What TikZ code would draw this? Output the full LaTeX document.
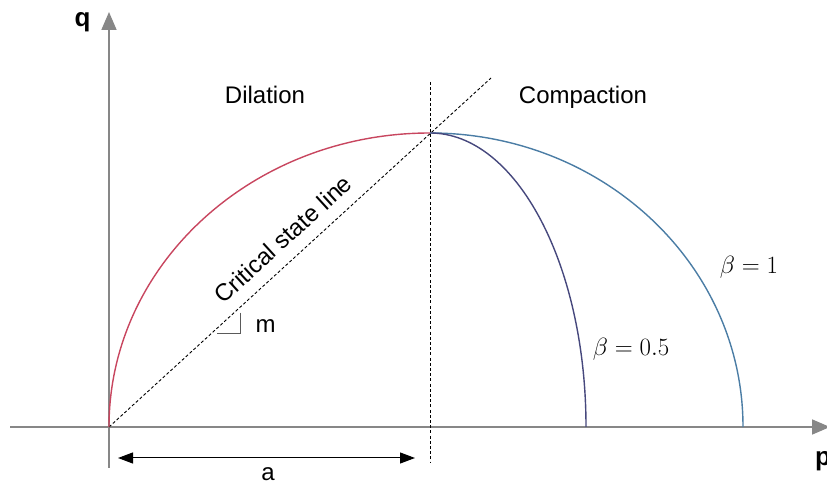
\documentclass[tikz,border=0pt]{standalone}
\usepackage{fontspec}
\setmainfont{Liberation Sans}
\usetikzlibrary{arrows.meta}
\definecolor{axisgray}{RGB}{135,135,135}
\definecolor{dilred}{RGB}{200,70,95}
\definecolor{betaone}{RGB}{75,125,165}
\definecolor{betahalf}{RGB}{70,72,125}
\definecolor{markgray}{RGB}{90,90,90}
\tikzset{
  axisline/.style={draw=axisgray,line width=1.8pt,-{Triangle[length=18pt,width=15pt]}},
  guideline/.style={draw=black,line width=0.9pt,dash pattern=on 3pt off 2.2pt},
  curve/.style={line width=1.4pt},
  lbl/.style={font=\fontsize{24}{28}\selectfont,inner sep=0pt},
  axlbl/.style={font=\fontsize{26}{30}\selectfont\bfseries,inner sep=0pt},
  mathlbl/.style={font=\fontsize{23}{27}\selectfont,inner sep=0pt},
  dimarrow/.style={draw=black,line width=1pt,{Triangle[length=15pt,width=11pt]}-{Triangle[length=15pt,width=11pt]}}
}
\begin{document}
\begin{tikzpicture}[x=1pt,y=1pt]
\useasboundingbox (0,0) rectangle (827,484);
% key points
\coordinate (O) at (109,57);
\coordinate (P) at (430,351);
\coordinate (xstart) at (10,57);
\coordinate (xend) at (830,57);
\coordinate (ystart) at (109,16);
\coordinate (yend) at (109,472);
\coordinate (csltop) at (491,406);
\coordinate (vtop) at (430,402);
\coordinate (vbot) at (430,21);
\coordinate (aL) at (118,26);
\coordinate (aR) at (415,26);
\coordinate (m1) at (240,171.3);
\coordinate (m2) at (240,150);
\coordinate (m3) at (216.7,150);
% axes
\draw[axisline] (xstart) -- (xend);
\draw[axisline] (ystart) -- (yend);
\node[axlbl,anchor=base] (qlbl) at (82.5,457.5) {q};
\node[axlbl,anchor=base west] (plbl) at (815,18.8) {p};
% guides
\draw[guideline] (O) -- (csltop);
\draw[guideline] (vtop) -- (vbot);
% curves
\draw[curve,dilred] (O) arc[start angle=180,end angle=90,x radius=321,y radius=294];
\draw[curve,betaone] (P) arc[start angle=90,end angle=0,x radius=313,y radius=294];
\draw[curve,betahalf] (P) arc[start angle=90,end angle=0,x radius=156,y radius=294];
% slope marker
\draw[markgray,line width=1pt] (m1) -- (m2) -- (m3);
\node[lbl,anchor=base west] (mlbl) at (255.5,151) {m};
% dimension a
\draw[dimarrow] (aL) -- (aR);
\node[lbl,anchor=base] (albl) at (268,3.5) {a};
% labels
\node[lbl,anchor=base] (dil) at (265,380.5) {Dilation};
\node[lbl,anchor=base] (comp) at (583,380.5) {Compaction};
\node[lbl,rotate=42.4] (csl) at (283,245) {Critical state line};
\node[mathlbl,anchor=base] (b1) at (749,210) {$\beta=1$};
\node[mathlbl,anchor=base] (b05) at (631,128) {$\beta=0.5$};
\end{tikzpicture}
\end{document}
